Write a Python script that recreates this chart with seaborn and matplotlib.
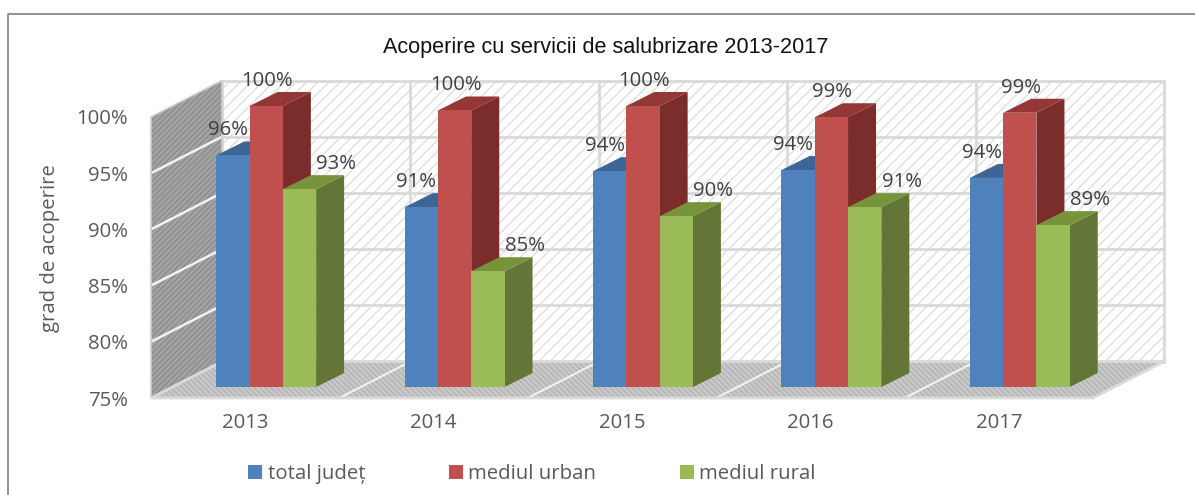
import numpy as np
import pandas as pd
import matplotlib
matplotlib.use("Agg")
import matplotlib.pyplot as plt
import matplotlib.transforms as mtransforms
from matplotlib.patches import Polygon
from matplotlib.lines import Line2D
import seaborn as sns

# ---------------- data ----------------
years = ["2013", "2014", "2015", "2016", "2017"]
series = ["total județ", "mediul urban", "mediul rural"]
total_judet = [0.956, 0.910, 0.942, 0.943, 0.936]
mediul_urban = [1.000, 0.996, 1.000, 0.990, 0.994]
mediul_rural = [0.926, 0.853, 0.902, 0.910, 0.894]
y_ticks = [0.75, 0.80, 0.85, 0.90, 0.95, 1.00]
title_text = "Acoperire cu servicii de salubrizare 2013-2017"
y_label = "grad de acoperire"

# ---------------- style ----------------
front_colors = ["#4F81BD", "#C0504D", "#9BBB59"]
top_colors = ["#3D6596", "#933836", "#77933C"]
side_colors = ["#2F4D74", "#7A2D2B", "#637637"]
label_dx = [-5, 1, 37]          # px offsets of value labels per series
W, H, DPI = 1195, 495, 100

sns.set_theme(style="white")
plt.rcParams["font.family"] = ["Open Sans", "DejaVu Sans"]
plt.rcParams["hatch.linewidth"] = 0.9

df = pd.DataFrame({
    "an": years * 3,
    "serie": [s for s in series for _ in years],
    "val": total_judet + mediul_urban + mediul_rural,
})

fig = plt.figure(figsize=(W / DPI, H / DPI), dpi=DPI)


def rect(l, r, t, b):
    return [l / W, 1 - b / H, (r - l) / W, (b - t) / H]


# front plane axes (ticks) and bar plane axes
ax = fig.add_axes(rect(151, 1093, 117, 398))
ax.set_xlim(-0.5, len(years) - 0.5)
ax.set_ylim(y_ticks[0], y_ticks[-1])
ax.patch.set_visible(False)
for s in ax.spines.values():
    s.set_visible(False)
ax.set_xticks(range(len(years)), labels=years)
ax.set_yticks(y_ticks, labels=[f"{round(t * 100)}%" for t in y_ticks])
ax.tick_params(axis="x", length=0, pad=11, labelsize=14.7, labelcolor="#595959")
ax.tick_params(axis="y", length=0, pad=16.5, labelsize=14.7, labelcolor="#595959")
ax.grid(False)

DEPTH = np.array([71.0, 36.5])


def proj(x, y, d):
    return ax.transData.transform((x, y)) + d * DEPTH


ident = mtransforms.IdentityTransform()
x0, x1 = -0.5, len(years) - 0.5
y0, y1 = y_ticks[0], y_ticks[-1]


def wall(pts, face, hatch_col, hatch, z):
    ax.add_patch(Polygon(pts, closed=True, facecolor=face, edgecolor="none",
                         transform=ident, clip_on=False, zorder=z))
    ax.add_patch(Polygon(pts, closed=True, facecolor="none", edgecolor=hatch_col,
                         hatch=hatch, linewidth=0, transform=ident, clip_on=False, zorder=z + 0.1))


# back wall
back = [proj(x0, y0, 1), proj(x1, y0, 1), proj(x1, y1, 1), proj(x0, y1, 1)]
wall(back, "white", "#dcdcdc", "///", 1)
for t in y_ticks[1:-1]:
    p, q = proj(x0, t, 1), proj(x1, t, 1)
    ax.add_line(Line2D([p[0], q[0]], [p[1], q[1]], color="#d9d9d9", lw=2, transform=ident, clip_on=False, zorder=1.5))
for b in np.arange(0.5, len(years) - 0.5, 1.0):
    p, q = proj(b, y0, 1), proj(b, y1, 1)
    ax.add_line(Line2D([p[0], q[0]], [p[1], q[1]], color="#d9d9d9", lw=2, transform=ident, clip_on=False, zorder=1.5))
ax.add_patch(Polygon(back, closed=True, facecolor="none", edgecolor="#d9d9d9", lw=2,
                     transform=ident, clip_on=False, zorder=1.6))

# side wall
side = [proj(x0, y0, 0), proj(x0, y1, 0), proj(x0, y1, 1), proj(x0, y0, 1)]
wall(side, "#a3a3a3", "#8a8a8a", "//////", 2)
for t in y_ticks[1:-1]:
    p, q = proj(x0, t, 0), proj(x0, t, 1)
    ax.add_line(Line2D([p[0], q[0]], [p[1], q[1]], color="#f2f2f2", lw=1.8, transform=ident, clip_on=False, zorder=2.5))
ax.add_patch(Polygon(side, closed=True, facecolor="none", edgecolor="#cfcfcf", lw=1.2,
                     transform=ident, clip_on=False, zorder=2.6))

# floor
floor = [proj(x0, y0, 0), proj(x1, y0, 0), proj(x1, y0, 1), proj(x0, y0, 1)]
wall(floor, "#c8c8c8", "#b2b2b2", "\\\\\\\\\\\\", 2)
for b in np.arange(0.5, len(years) - 0.5, 1.0):
    p, q = proj(b, y0, 0), proj(b, y0, 1)
    ax.add_line(Line2D([p[0], q[0]], [p[1], q[1]], color="#f2f2f2", lw=1.5, transform=ident, clip_on=False, zorder=2.5))
ax.add_patch(Polygon(floor, closed=True, facecolor="none", edgecolor="#dadada", lw=2,
                     transform=ident, clip_on=False, zorder=2.6))

# bars
ax_bar = fig.add_axes(rect(172, 1114, 106, 387))
ax_bar.patch.set_visible(False)
sns.barplot(data=df, x="an", y="val", hue="serie", palette=front_colors,
            width=0.53, gap=0, saturation=1, linewidth=0, ax=ax_bar)
ax_bar.set_xlim(-0.5, len(years) - 0.5)
ax_bar.set_ylim(y0, y1)
for s in ax_bar.spines.values():
    s.set_visible(False)
ax_bar.set_xticks([])
ax_bar.set_yticks([])
ax_bar.set_xlabel("")
ax_bar.set_ylabel("")

items = []
for hi, cont in enumerate(ax_bar.containers):
    for p in cont.patches:
        items.append((p.get_x(), hi, p))
items.sort(key=lambda it: it[0])
off = np.array([28.0, 14.0])
T = ax_bar.transData
for rank, (bx, hi, p) in enumerate(items):
    w = p.get_width()
    top = p.get_y() + p.get_height()
    fl = T.transform((bx, y0))
    fr = T.transform((bx + w, y0))
    tl = T.transform((bx, top))
    tr = T.transform((bx + w, top))
    z = 3 + 2 * rank
    ax_bar.add_patch(Polygon([fr, tr, tr + off, fr + off], closed=True, facecolor=side_colors[hi],
                             edgecolor="none", transform=ident, clip_on=False, zorder=z))
    ax_bar.add_patch(Polygon([tl, tr, tr + off, tl + off], closed=True, facecolor=top_colors[hi],
                             edgecolor="none", transform=ident, clip_on=False, zorder=z))
    p.set_zorder(z + 1)
    ax_bar.annotate(f"{round(top * 100)}%", xy=(bx + w / 2, top),
                    xytext=(label_dx[hi] * 0.72, 25 * 0.72), textcoords="offset points",
                    ha="center", va="center", fontsize=14.7, color="#404040",
                    zorder=200, annotation_clip=False)

sns.move_legend(ax_bar, "center", bbox_to_anchor=(532 / W, 1 - 474 / H),
                bbox_transform=fig.transFigure, ncol=3, frameon=False, title=None,
                fontsize=14.7, handlelength=0.7, handleheight=0.7,
                handletextpad=0.25, columnspacing=4.1)
for txt in ax_bar.get_legend().get_texts():
    txt.set_color("#595959")

# titles
fig.text(606 / W, 1 - 47 / H, title_text, ha="center", va="center", fontsize=15.6,
         family=["Liberation Sans", "DejaVu Sans"], color="#111111")
fig.text(50 / W, 1 - 248 / H, y_label, rotation=90, ha="center", va="center",
         fontsize=14.7, color="#595959")

# outer frame (partial, as in reference)
fig.add_artist(Line2D([8 / W, 8 / W, 1.0], [0.0, 1 - 14 / H, 1 - 14 / H],
                      transform=fig.transFigure, color="#8a8a8a", lw=1.3))

fig.savefig("out.png", dpi=DPI)
